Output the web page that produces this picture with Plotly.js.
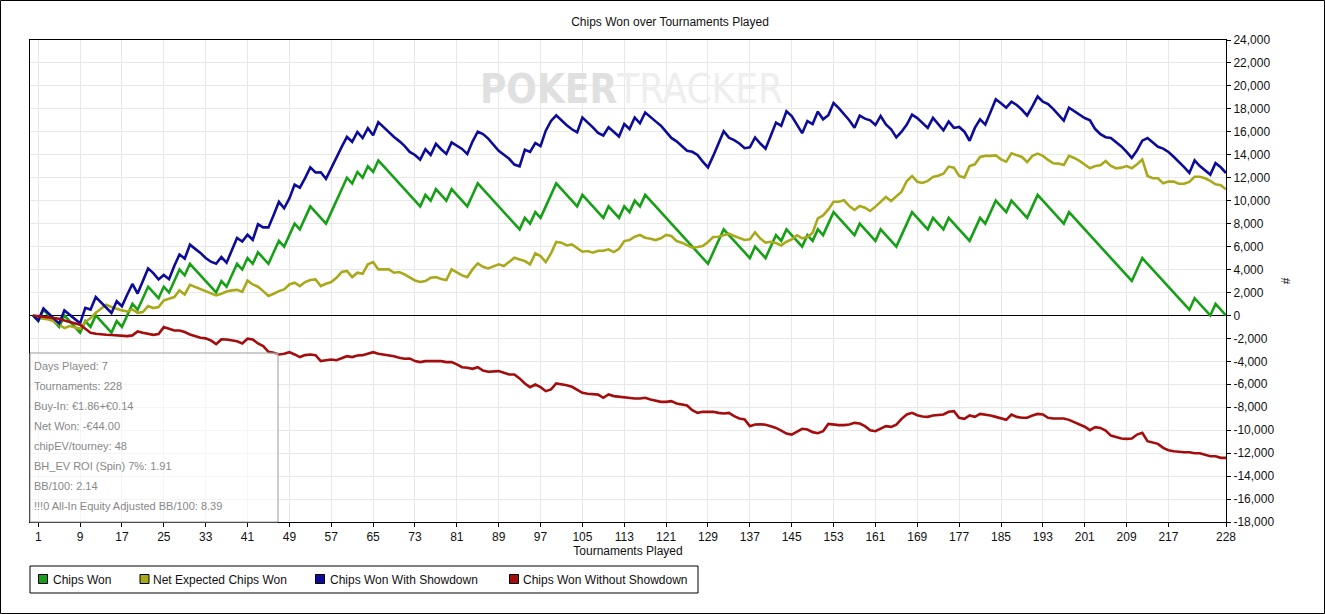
<!DOCTYPE html>
<html>
<head>
<meta charset="utf-8">
<script src="https://cdn.plot.ly/plotly-3.0.1.min.js"></script>
<style>
html,body{margin:0;padding:0;background:#fff;}
#chart{width:1325px;height:614px;}
</style>
</head>
<body>
<div id="chart"></div>
<script>
// ---------- DATA ----------
const chipsWon = [
0,-500,500,0,-500,-1000,0,-500,-1000,-1500,
-500,-1000,0,-500,-1000,-1500,-500,-1000,0,1000,
500,1500,2500,2000,1500,2500,2000,3000,4000,3500,
4500,4000,3500,3000,2500,2000,3000,2500,3500,4500,
4000,5000,4500,5500,5000,4500,5500,6500,6000,7000,
8000,7500,8500,9500,9000,8500,8000,9000,10000,11000,
12000,11500,12500,12000,13000,12500,13500,13000,12500,12000,
11500,11000,10500,10000,9500,10500,10000,11000,10500,10000,
11000,10500,10000,9500,10500,11500,11000,10500,10000,9500,
9000,8500,8000,7500,8500,8000,9000,8500,9500,10500,
11500,11000,10500,10000,9500,10500,10000,9500,9000,8500,
9500,9000,8500,9500,9000,10000,9500,10500,10000,9500,
9000,8500,8000,7500,7000,6500,6000,5500,5000,4500,
5500,6500,7500,7000,6500,6000,5500,5000,6000,5500,
5000,6000,7000,6500,7500,7000,6500,6000,7000,6500,
7500,7000,8000,9000,8500,8000,7500,7000,8000,7500,
7000,6500,7500,7000,6500,6000,7000,8000,9000,8500,
8000,7500,8500,8000,7500,8500,8000,7500,7000,6500,
7500,8500,8000,9000,10000,9500,9000,10000,9500,9000,
8500,9500,10500,10000,9500,9000,8500,8000,9000,8500,
8000,7500,7000,6500,6000,5500,5000,4500,4000,3500,
3000,4000,5000,4500,4000,3500,3000,2500,2000,1500,
1000,500,1500,1000,500,0,1000,500,0];

const netExpected = [
0,-230,-290,-350,-520,-810,-1100,-930,-1020,-1160,
-580,-230,230,580,930,730,580,440,350,520,
230,290,810,640,730,1310,1450,1600,2180,1830,
2670,2470,2330,2090,1890,1740,1890,2090,2180,2230,
2060,3050,2700,2500,2120,1690,1890,2120,2270,2700,
2850,2560,2910,3080,3140,2560,2760,2910,3280,3780,
3870,3340,3720,3630,4450,4650,4010,4010,4010,3720,
3780,3580,3280,3050,2910,2990,3280,3340,3170,3080,
4010,3780,3490,3340,4010,4530,4240,4100,4300,4450,
4300,4650,5030,4880,4740,4450,5410,5170,4650,5410,
6400,6340,6100,6190,5900,5550,5610,5470,5640,5640,
5760,5520,5810,6480,6570,6860,7010,6770,6690,6570,
6720,7010,6920,6480,6340,6130,5900,5960,6050,6400,
6830,6860,7010,7120,6920,6720,6570,6630,7240,6700,
6350,6420,6310,6100,6420,6630,6980,6720,6830,7210,
8460,8720,9240,9910,9910,10030,9530,9190,9530,9390,
9100,9480,9910,10320,9970,10410,10790,11720,12150,11650,
11540,11720,12060,12180,12350,12970,12880,12150,12010,13020,
13170,13810,13900,13900,13950,13600,13400,14130,13980,13810,
13370,13900,14100,13900,13550,13260,13230,13110,13900,13720,
13460,13170,12820,13020,13080,13460,13020,12820,12880,13020,
12820,13170,13580,12150,11950,11950,11510,11660,11660,11480,
11480,11630,12090,12090,11950,11720,11420,11340,10990];

const withShowdown = [
0,-440,600,150,-270,-710,440,80,-270,-690,
660,510,1600,1160,690,210,1240,800,1800,2740,
1900,3010,4100,3690,3130,3520,3160,4310,5310,4950,
6160,5800,5450,5000,4680,4500,5090,4600,5650,6750,
6440,7030,6590,7940,7670,7670,8760,9900,9340,10200,
11400,11130,11960,12900,12460,12480,11900,12840,13900,14690,
15550,15130,15990,15460,16310,15700,16840,16400,15960,15550,
15190,14780,14250,13980,13570,14480,13980,14950,14480,14070,
15070,14770,14510,14060,15150,16010,15800,15410,14910,14350,
14000,13650,13150,12990,14430,14250,15020,14750,16100,16950,
17430,16990,16580,16220,15950,17240,16830,16390,15900,15680,
16390,16030,15590,16680,16240,17240,16740,17680,17330,16910,
16530,16030,15470,15170,14760,14350,14260,13990,13400,12900,
13900,14990,16050,15490,15280,14980,14570,14650,15510,14980,
14530,15650,16800,16530,17790,17380,16650,15880,16940,16670,
17760,17090,17450,18510,18060,17560,17010,16360,17420,17150,
17000,16590,17380,16650,16210,15510,16010,16630,17490,17190,
16800,16340,17220,16690,16130,16900,16340,16420,16010,15220,
16340,17080,16630,17720,18840,18480,18100,18630,18340,17920,
17420,18220,19080,18630,18420,17980,17480,16980,18100,17800,
17550,17200,17000,16240,15800,15530,15470,15110,14730,14260,
13730,14380,15230,15460,15100,14690,14540,14240,13830,13390,
12920,12420,13510,13010,12620,12270,13270,12910,12410];

const withoutShowdown = [
0,-60,-100,-150,-230,-290,-440,-580,-730,-810,
-1160,-1510,-1600,-1660,-1690,-1710,-1740,-1800,-1800,-1740,
-1400,-1510,-1600,-1690,-1630,-1020,-1160,-1310,-1310,-1450,
-1660,-1800,-1950,-2000,-2180,-2500,-2090,-2100,-2150,-2250,
-2440,-2030,-2090,-2440,-2670,-3170,-3260,-3400,-3340,-3200,
-3400,-3630,-3460,-3400,-3460,-3980,-3900,-3840,-3900,-3690,
-3550,-3630,-3490,-3460,-3310,-3200,-3340,-3400,-3460,-3550,
-3690,-3780,-3750,-3980,-4070,-3980,-3980,-3950,-3980,-4070,
-4070,-4270,-4510,-4560,-4650,-4510,-4800,-4910,-4910,-4850,
-5000,-5150,-5150,-5490,-5930,-6250,-6020,-6250,-6600,-6450,
-5930,-5990,-6080,-6220,-6450,-6740,-6830,-6890,-6900,-7180,
-6890,-7030,-7090,-7180,-7240,-7240,-7240,-7180,-7330,-7410,
-7530,-7530,-7470,-7670,-7760,-7850,-8260,-8490,-8400,-8400,
-8400,-8490,-8550,-8490,-8780,-8980,-9070,-9650,-9510,-9480,
-9530,-9650,-9800,-10030,-10290,-10380,-10150,-9880,-9940,-10170,
-10260,-10090,-9450,-9510,-9560,-9560,-9510,-9360,-9420,-9650,
-10000,-10090,-9880,-9650,-9710,-9510,-9010,-8630,-8490,-8690,
-8800,-8840,-8720,-8690,-8630,-8400,-8340,-8920,-9010,-8720,
-8840,-8580,-8630,-8720,-8840,-8980,-9100,-8630,-8840,-8920,
-8920,-8720,-8580,-8630,-8920,-8980,-8980,-8980,-9100,-9300,
-9550,-9700,-10000,-9740,-9800,-10030,-10470,-10610,-10730,-10760,
-10730,-10380,-10230,-10960,-11100,-11190,-11540,-11740,-11830,-11890,
-11920,-11920,-12010,-12010,-12120,-12270,-12270,-12410,-12410];

// tournament index (0 = start point before tournament 1)
const tournaments = chipsWon.map((_, i) => i);

const xTickVals = [1,9,17,25,33,41,49,57,65,73,81,89,97,105,113,121,129,137,145,153,161,169,177,185,193,201,209,217,228];
const xTickText = xTickVals.map(String);
const yTickVals = [24000,22000,20000,18000,16000,14000,12000,10000,8000,6000,4000,2000,0,-2000,-4000,-6000,-8000,-10000,-12000,-14000,-16000,-18000];
const yTickText = ["24,000","22,000","20,000","18,000","16,000","14,000","12,000","10,000","8,000","6,000","4,000","2,000","0","-2,000","-4,000","-6,000","-8,000","-10,000","-12,000","-14,000","-16,000","-18,000"];

const seriesNames = ["Chips Won","Net Expected Chips Won","Chips Won With Showdown","Chips Won Without Showdown"];
const seriesColors = ["#17a017","#a9a91c","#0c0c98","#a30d0d"];

const infoLines = ["Days Played: 7","Tournaments: 228","Buy-In: €1.86+€0.14","Net Won: -€44.00","chipEV/tourney: 48","BH_EV ROI (Spin) 7%: 1.91","BB/100: 2.14","!!!0 All-In Equity Adjusted BB/100: 8.39"];

// ---------- LAYOUT HELPERS (pixel -> paper) ----------
const W = 1325, H = 614, L = 30, R = 1226, T = 40, B = 522;
const px = x => (x - L) / (R - L);
const py = y => (B - y) / (B - T);

const FONT = "Liberation Sans, Arial, Helvetica, sans-serif";

const seriesData = [chipsWon, netExpected, withShowdown, withoutShowdown];
const traces = seriesData.map((d, i) => ({
  type: "scatter", mode: "lines", name: seriesNames[i],
  x: tournaments, y: d,
  line: {color: seriesColors[i], width: 2.6, shape: "linear"},
  showlegend: false, hoverinfo: "x+y+name"
}));

const shapes = [];
const annotations = [];

// outer frame
shapes.push({type:"rect", xref:"paper", yref:"paper", x0:px(0.5), x1:px(W-0.5), y0:py(H-0.5), y1:py(0.5),
  line:{color:"#000", width:1}, fillcolor:"rgba(0,0,0,0)", layer:"above"});

// info box
shapes.push({type:"rect", xref:"paper", yref:"paper", x0:px(30), x1:px(278), y0:py(522), y1:py(353),
  line:{color:"#9a9a9a", width:1}, fillcolor:"rgba(255,255,255,0.55)", layer:"above"});
infoLines.forEach((t, i) => {
  annotations.push({xref:"paper", yref:"paper", x:px(32), y:py(366 + 20*i), xanchor:"left", yanchor:"middle",
    text:t, showarrow:false, font:{family:FONT, size:11, color:"#878787"}});
});

// legend box (manual, square swatches)
shapes.push({type:"rect", xref:"paper", yref:"paper", x0:px(30), x1:px(698), y0:py(593), y1:py(566),
  line:{color:"#000", width:1}, fillcolor:"#fff", layer:"above"});
const legSq = [43, 144.5, 320, 514];
const legTx = [50.5, 151, 327.5, 521];
seriesNames.forEach((n, i) => {
  shapes.push({type:"rect", xref:"paper", yref:"paper", x0:px(legSq[i]-4.5), x1:px(legSq[i]+4.5), y0:py(583.5), y1:py(574.5),
    line:{color:"#000", width:1}, fillcolor:seriesColors[i], layer:"above"});
  annotations.push({xref:"paper", yref:"paper", x:px(legTx[i]), y:py(579.5), xanchor:"left", yanchor:"middle",
    text:n, showarrow:false, font:{family:FONT, size:12, color:"#111"}});
});

// watermark
annotations.push({xref:"paper", yref:"paper", x:px(631), y:py(89), xanchor:"center", yanchor:"middle",
  text:"<b>POKER</b><span style='color:#eeeeee'>TRACKER</span>", showarrow:false,
  font:{family:"Liberation Sans Narrow, DejaVu Sans Condensed, Arial Narrow, sans-serif", size:40, color:"#e0e0e0"}});

const layout = {
  width: W, height: H,
  margin: {l: L, r: W - R, t: T, b: H - B, pad: 0},
  paper_bgcolor: "#fff", plot_bgcolor: "#fff",
  font: {family: FONT, size: 12, color: "#111"},
  title: {text: "Chips Won over Tournaments Played", font: {family: FONT, size: 12, color: "#111"},
    x: 670 / W, xanchor: "center", xref: "container", y: 1 - 22 / H, yref: "container", yanchor: "middle"},
  showlegend: false,
  xaxis: {
    range: [-0.57, 228], tickmode: "array", tickvals: xTickVals, ticktext: xTickText,
    showgrid: true, gridcolor: "#e8e8e8", gridwidth: 1,
    ticks: "outside", ticklen: 4, tickcolor: "#000",
    showline: true, mirror: true, linecolor: "#000", linewidth: 1,
    zeroline: false, tickfont: {family: FONT, size: 12, color: "#111"},
    title: {text: "Tournaments Played", font: {family: FONT, size: 12, color: "#111"}, standoff: 3}
  },
  yaxis: {
    side: "right", range: [-18000, 24000], tickmode: "array", tickvals: yTickVals, ticktext: yTickText,
    showgrid: true, gridcolor: "#e8e8e8", gridwidth: 1,
    ticks: "outside", ticklen: 4, tickcolor: "#000",
    showline: true, mirror: true, linecolor: "#000", linewidth: 1,
    zeroline: true, zerolinecolor: "#000", zerolinewidth: 1,
    tickfont: {family: FONT, size: 12, color: "#111"},
    title: {text: "#", font: {family: FONT, size: 12, color: "#111"}, standoff: 8}
  },
  shapes: shapes,
  annotations: annotations
};

Plotly.newPlot("chart", traces, layout, {displayModeBar: false, responsive: false});
</script>
</body>
</html>
